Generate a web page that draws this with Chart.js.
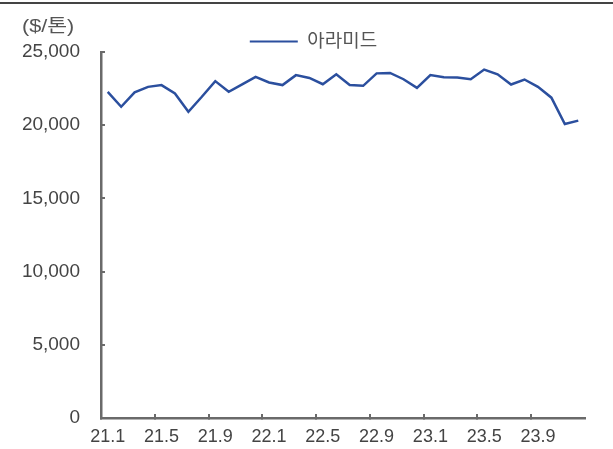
<!DOCTYPE html>
<html lang="ko">
<head>
<meta charset="UTF-8">
<title>아라미드 가격</title>
<script src="https://cdn.jsdelivr.net/npm/chart.js"></script>
<style>
    html, body { margin: 0; padding: 0; background: #fff; }
    .wrap { position: relative; width: 613px; height: 449px; }
    .topline { position: absolute; left: 0; top: 2px; width: 613px; height: 2px; background: #444; }
    .unit {
        position: absolute; left: 22px; top: 11px;
        font-family: Arial, "Liberation Sans", "Noto Sans CJK KR", sans-serif;
        font-size: 18px; color: #555;
        transform: scaleX(1.2); transform-origin: left top;
    }
</style>
</head>
<body>
<div class="wrap">
    <div class="topline"></div>
    <div class="unit">($/톤)</div>
    <canvas id="chart" width="613" height="449"></canvas>
</div>
<script>
    // 월별 카테고리 (21.1 ~ 23.12)
    const months = [];
    for (let y = 21; y <= 23; y++) {
        for (let m = 1; m <= 12; m++) months.push(y + '.' + m);
    }

    // 아라미드 가격 ($/톤), 그림에서 읽은 값
    const aramid = [
        22280, 21260, 22240, 22620, 22740, 22170, 20920, 21940, 23010, 22280, 22790, 23300,
        22920, 22740, 23420, 23230, 22800, 23480, 22740, 22690, 23540, 23570, 23140, 22550,
        23420, 23280, 23260, 23140, 23800, 23480, 22780, 23120, 22620, 21880, 20080, 20310
    ];

    const yTicks = [0, 5000, 10000, 15000, 20000, 25000];

    const font = { family: 'Arial, "Liberation Sans", sans-serif', size: 19 };
    const axisColor = '#6a6a6a';
    const lineColor = '#2b4f9e';

    // 범례를 플롯 위쪽 가까이로 옮김 (레이아웃은 그대로)
    const legendShift = {
        id: 'legendShift',
        afterLayout(chart) {
            const lg = chart.legend;
            lg.top += 9; lg.bottom += 9;
            lg.left += 21; lg.right += 21;
        }
    };

    new Chart(document.getElementById('chart'), {
        type: 'line',
        data: {
            labels: months,
            datasets: [{
                label: '아라미드',
                data: aramid,
                borderColor: lineColor,
                backgroundColor: lineColor,
                borderWidth: 2.5,
                pointRadius: 0,
                tension: 0
            }]
        },
        plugins: [legendShift],
        options: {
            responsive: false,
            animation: false,
            layout: { padding: { top: 23, right: 28, left: 0, bottom: 0 } },
            plugins: {
                tooltip: { enabled: false },
                legend: {
                    position: 'top',
                    labels: {
                        boxWidth: 48,
                        boxHeight: 2,
                        padding: 0,
                        color: '#555',
                        font: { family: 'Arial, "Noto Sans CJK KR", sans-serif', size: 19 },
                        generateLabels: chart => Chart.defaults.plugins.legend.labels.generateLabels(chart)
                            .map(item => Object.assign(item, { lineWidth: 0 }))
                    }
                }
            },
            scales: {
                x: {
                    offset: true,
                    grid: {
                        offset: true,
                        drawOnChartArea: false,
                        tickLength: -4,
                        lineWidth: 2,
                        color: ctx => ctx.index % 4 === 0 ? axisColor : 'rgba(0,0,0,0)'
                    },
                    border: { color: axisColor, width: 2.5 },
                    ticks: {
                        autoSkip: false,
                        maxRotation: 0,
                        padding: 12,
                        color: '#444',
                        font: { family: font.family, size: 18 },
                        callback: (v, i) => i % 4 === 0 ? months[i] : ''
                    },
                    afterFit: s => { s.height = 31; }
                },
                y: {
                    min: 0,
                    max: 25000,
                    afterBuildTicks: s => { s.ticks = yTicks.map(v => ({ value: v })); },
                    grid: {
                        drawOnChartArea: false,
                        tickLength: -4,
                        lineWidth: 2,
                        color: axisColor
                    },
                    border: { color: axisColor, width: 2.5 },
                    ticks: {
                        padding: 25,
                        color: '#444',
                        font: font,
                        callback: v => v.toLocaleString('en-US')
                    },
                    afterFit: s => {
                        s.width = 101;
                        s.paddingTop = 0;
                        s.paddingBottom = 0;
                    }
                }
            }
        }
    });
</script>
</body>
</html>
